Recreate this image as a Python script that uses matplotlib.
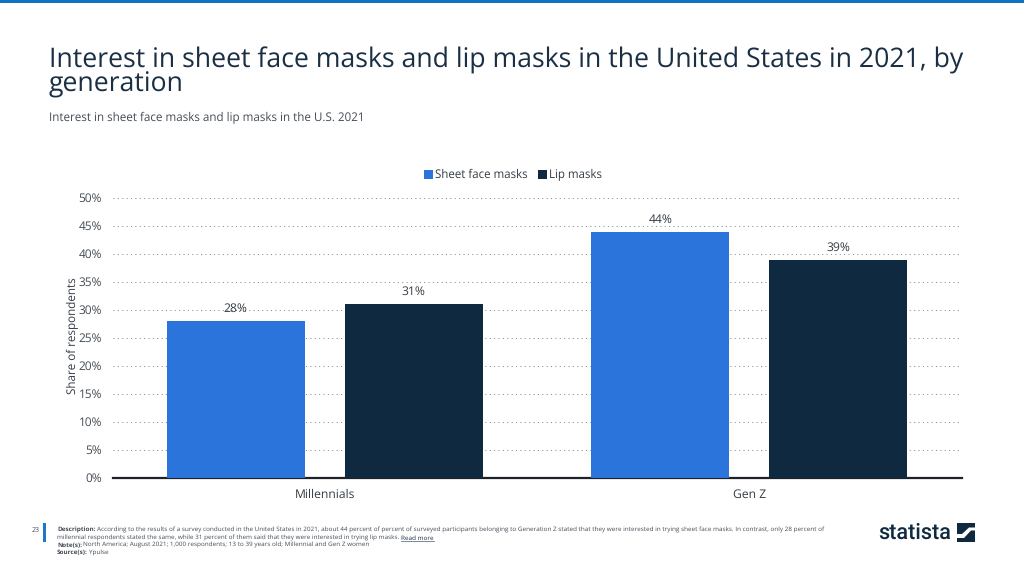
import matplotlib
matplotlib.use("Agg")
import matplotlib.pyplot as plt
from matplotlib.patches import Rectangle, Polygon
from matplotlib.transforms import ScaledTranslation

categories = ["Millennials", "Gen Z"]
sheet_face_masks = [28, 44]
lip_masks = [31, 39]
series_names = ["Sheet face masks", "Lip masks"]
y_ticks = [0, 5, 10, 15, 20, 25, 30, 35, 40, 45, 50]

BLUE = "#2a74dc"
NAVY = "#0f2a40"
GREY = "#444c54"
W, H = 1024, 576

plt.rcParams["font.family"] = ["Open Sans", "DejaVu Sans"]
plt.rcParams["text.hinting"] = "no_hinting"
plt.rcParams["text.hinting_factor"] = 8
fig = plt.figure(figsize=(W / 100, H / 100), dpi=100, facecolor="white")

def fx(px): return px / W
def fy(py): return 1 - py / H

# top band
fig.add_artist(Rectangle((0, fy(3)), 1, 3 / H, transform=fig.transFigure, color="#0b72c4", lw=0))

# titles
fig.text(fx(49), fy(72), "Interest in sheet face masks and lip masks in the United States in 2021, by\ngeneration",
         fontsize=19.2, color="#1a2f44", va="center", ha="left", linespacing=0.86)
fig.text(fx(49), fy(117.5), "Interest in sheet face masks and lip masks in the U.S. 2021",
         fontsize=8.4, color=GREY, va="center", ha="left")

# chart
ax = fig.add_axes([fx(112.5), fy(478), (961 - 112) / W, (478 - 198) / H])
x = list(range(len(categories)))
offset, width = 0.2095, 0.325
b1 = ax.bar([i - offset for i in x], sheet_face_masks, width, color=BLUE, label=series_names[0], zorder=3)
b2 = ax.bar([i + offset for i in x], lip_masks, width, color=NAVY, label=series_names[1], zorder=3)
for bars in (b1, b2):
    for r in bars:
        v = r.get_height()
        ax.annotate(f"{v:.0f}%", (r.get_x() + r.get_width() / 2, v), xytext=(0, 4.5),
                    textcoords="offset points", ha="center", va="bottom",
                    fontsize=8.7, color="#333b44", zorder=4)
ax.set_xlim(-0.5, 1.5)
ax.set_ylim(0, 50)
ax.set_yticks(y_ticks)
ax.set_yticklabels([f"{t}%" for t in y_ticks], fontsize=8.6, color=GREY)
ax.set_xticks(x)
ax.set_xticklabels(categories, fontsize=8.7, color="#333b44")
ax.tick_params(axis="both", length=0)
ax.tick_params(axis="y", pad=7.5)
ax.tick_params(axis="x", pad=7.5)
for lab in ax.get_yticklabels():
    lab.set_transform(lab.get_transform() + ScaledTranslation(0, 1 / 100, fig.dpi_scale_trans))
ax.grid(axis="y", linestyle=(0, (1, 3.2)), color="#8a9198", linewidth=0.75, zorder=0)
ax.set_axisbelow(True)
for s in ("top", "left", "right"):
    ax.spines[s].set_visible(False)
ax.spines["bottom"].set_color("#1c2228")
ax.spines["bottom"].set_linewidth(1.6)
ax.set_ylabel("Share of respondents", fontsize=8.4, color="#333b44")
ax.yaxis.set_label_coords((79 - 112.5) / (961 - 112), 0.5 + 2 / 280)

fig.legend(handles=[b1, b2], labels=series_names, loc="center", ncol=2,
           bbox_to_anchor=(fx(513), fy(175)), frameon=False, fontsize=8.3,
           handlelength=0.8, handleheight=0.8, handletextpad=0.2, columnspacing=0.85,
           labelcolor="#333b44")

# footer
fig.text(fx(40), fy(530), "23", fontsize=5, color=GREY, ha="right", va="center")
fig.add_artist(Rectangle((fx(43), fy(542)), 3 / W, 19 / H, transform=fig.transFigure, color="#1f78c4", lw=0))
fs = 4.6
lines = [
    (532, "Description:", "According to the results of a survey conducted in the United States in 2021, about 44 percent of percent of surveyed participants belonging to Generation Z stated that they were interested in trying sheet face masks. In contrast, only 28 percent of"),
    (547, "Note(s):", "North America; August 2021; 1,000 respondents; 13 to 39 years old; Millennial and Gen Z women"),
    (554.5, "Source(s):", "Ypulse"),
]
renderer = fig.canvas.get_renderer()
for py, head, body in lines:
    t = fig.text(fx(57), fy(py), head, fontsize=fs, fontweight="bold", color=GREY, va="baseline", ha="left")
    bb = t.get_window_extent(renderer)
    fig.text((bb.x1 + 1.5) / W, fy(py), body, fontsize=fs, color=GREY, va="baseline", ha="left")
t = fig.text(fx(57), fy(539.5), "millennial respondents stated the same, while 31 percent of them said that they were interested in trying lip masks.",
             fontsize=fs, color=GREY, va="baseline", ha="left")
bb = t.get_window_extent(renderer)
r = fig.text((bb.x1 + 2) / W, fy(539.5), "Read more", fontsize=fs, color="#1a2f44", va="baseline", ha="left")
rb = r.get_window_extent(renderer)
fig.add_artist(plt.Line2D([rb.x0 / W, rb.x1 / W], [fy(541), fy(541)], color="#1a2f44", lw=0.4))

# logo
fig.text(fx(878), fy(533), "statista", fontsize=15.6, color=NAVY, family="Roboto", fontweight="medium",
         ha="left", va="center")
fig.add_artist(Rectangle((fx(956.5), fy(541.5)), 18.5 / W, 18.5 / H, transform=fig.transFigure, color=NAVY, lw=0))
fig.add_artist(Polygon([(fx(956.5), fy(534)), (fx(962), fy(534)), (fx(969), fy(527.5)), (fx(975), fy(527.5)),
                        (fx(975), fy(530.5)), (fx(971), fy(530.5)), (fx(964), fy(538)), (fx(956.5), fy(538))],
                       closed=True, transform=fig.transFigure, color="white", lw=0))

fig.savefig("out.png", dpi=100, facecolor="white")
